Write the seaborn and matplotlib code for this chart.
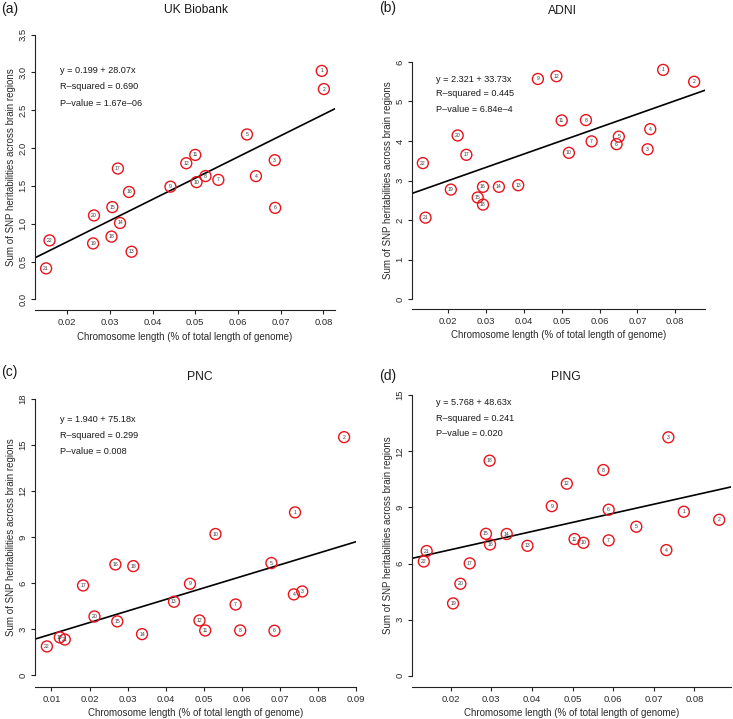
import matplotlib
matplotlib.use("Agg")
import matplotlib.pyplot as plt
import seaborn as sns
import pandas as pd

# chromosome numbers shown inside the circles
chromosomes = ['1', '2', '3', '4', '5', '6', '7', '8', '9', '10', '11',
               '12', '13', '14', '15', '16', '17', '18', '19', '20', '21', '22']

# (a) UK Biobank
ukb_len = [0.0796, 0.0801, 0.0686, 0.0642, 0.0621, 0.0687, 0.0554, 0.0524, 0.0442, 0.0503, 0.0500,
           0.0479, 0.0351, 0.0324, 0.0306, 0.0345, 0.0319, 0.0304, 0.0261, 0.0263, 0.0151, 0.0159]
ukb_h2 = [3.02, 2.78, 1.84, 1.63, 2.18, 1.21, 1.58, 1.63, 1.49, 1.55, 1.91,
          1.80, 0.63, 1.01, 1.22, 1.42, 1.73, 0.83, 0.74, 1.11, 0.41, 0.78]
ukb_fit = (0.199, 28.07)
ukb_stats = ['y = 0.199 + 28.07x', 'R\u2013squared = 0.690', 'P\u2013value = 1.67e\u201306']
ukb_yticks = [0.0, 0.5, 1.0, 1.5, 2.0, 2.5, 3.0, 3.5]
ukb_ylabels = ['0.0', '0.5', '1.0', '1.5', '2.0', '2.5', '3.0', '3.5']
ukb_xticks = [0.02, 0.03, 0.04, 0.05, 0.06, 0.07, 0.08]

# (b) ADNI
adni_len = [0.0768, 0.0850, 0.0727, 0.0734, 0.0651, 0.0645, 0.0579, 0.0564, 0.0437, 0.0519, 0.0500,
            0.0486, 0.0385, 0.0334, 0.0278, 0.0292, 0.0248, 0.0292, 0.0207, 0.0225, 0.0140, 0.0133]
adni_h2 = [5.80, 5.50, 3.79, 4.30, 4.11, 3.92, 3.99, 4.53, 5.57, 3.70, 4.52,
           5.64, 2.88, 2.84, 2.57, 2.84, 3.65, 2.39, 2.77, 4.14, 2.06, 3.44]
adni_fit = (2.321, 33.73)
adni_stats = ['y = 2.321 + 33.73x', 'R\u2013squared = 0.445', 'P\u2013value = 6.84e\u20134']
adni_yticks = [0, 1, 2, 3, 4, 5, 6]
adni_ylabels = ['0', '1', '2', '3', '4', '5', '6']
adni_xticks = [0.02, 0.03, 0.04, 0.05, 0.06, 0.07, 0.08]

# (c) PNC
pnc_len = [0.0740, 0.0869, 0.0759, 0.0737, 0.0678, 0.0686, 0.0584, 0.0596, 0.0464, 0.0531, 0.0504,
           0.0489, 0.0422, 0.0338, 0.0273, 0.0268, 0.0183, 0.0315, 0.0122, 0.0213, 0.0135, 0.0088]
pnc_h2 = [10.62, 15.52, 5.47, 5.28, 7.32, 2.91, 4.62, 2.93, 5.97, 9.21, 2.93,
          3.58, 4.80, 2.69, 3.52, 7.23, 5.86, 7.12, 2.48, 3.84, 2.34, 1.89]
pnc_fit = (1.940, 75.18)
pnc_stats = ['y = 1.940 + 75.18x', 'R\u2013squared = 0.299', 'P\u2013value = 0.008']
pnc_yticks = [0, 3, 6, 9, 12, 15, 18]
pnc_ylabels = ['0', '3', '6', '9', '12', '15', '18']
pnc_xticks = [0.01, 0.02, 0.03, 0.04, 0.05, 0.06, 0.07, 0.08, 0.09]

# (d) PING
ping_len = [0.0774, 0.0861, 0.0736, 0.0731, 0.0657, 0.0589, 0.0589, 0.0576, 0.0449, 0.0527, 0.0505,
            0.0486, 0.0389, 0.0338, 0.0287, 0.0297, 0.0247, 0.0296, 0.0206, 0.0224, 0.0141, 0.0134]
ping_h2 = [8.77, 8.34, 12.75, 6.72, 7.97, 8.88, 7.24, 11.00, 9.07, 7.11, 7.31,
           10.27, 6.95, 7.58, 7.59, 7.02, 6.01, 11.50, 3.87, 4.92, 6.67, 6.11]
ping_fit = (5.768, 48.63)
ping_stats = ['y = 5.768 + 48.63x', 'R\u2013squared = 0.241', 'P\u2013value = 0.020']
ping_yticks = [0, 3, 6, 9, 12, 15]
ping_ylabels = ['0', '3', '6', '9', '12', '15']
ping_xticks = [0.02, 0.03, 0.04, 0.05, 0.06, 0.07, 0.08]

W, H = 733, 719

sns.set_style("ticks")
plt.rcParams['font.family'] = ['Liberation Sans', 'DejaVu Sans']

fig = plt.figure(figsize=(W / 100, H / 100), dpi=100)


def fx(px):
    return px / W


def fy(py):
    return 1 - py / H


def draw_panel(box, tag, title, tag_pos, title_pos, stats_pos,
               xs, ys, fit, stats, yticks, ylabels, xticks):
    left, top, right, bottom = box
    ax = fig.add_axes([fx(left), fy(bottom), (right - left) / W, (bottom - top) / H])

    df = pd.DataFrame({'length': xs, 'h2': ys, 'chr': chromosomes})
    sns.scatterplot(data=df, x='length', y='h2', ax=ax, s=62, marker='o',
                    facecolor='none', edgecolor='#e8141c', linewidth=1.0, zorder=3)
    for _, row in df.iterrows():
        ax.text(row['length'], row['h2'], row['chr'], ha='center', va='center',
                fontsize=3.7, color='#3a3a3a', zorder=4)

    # R style limits: 4% padding around data (x) and around the tick range (y)
    pad = 0.04 * (max(xs) - min(xs))
    ax.set_xlim(min(xs) - pad, max(xs) + pad)
    span = yticks[-1] - yticks[0]
    ax.set_ylim(yticks[0] - 0.04 * span, yticks[-1] + 0.04 * span)

    ax.axline((0, fit[0]), slope=fit[1], color='black', lw=1.2, zorder=2)

    ax.set_xticks(xticks)
    ax.set_xticklabels([f'{t:.2f}' for t in xticks])
    ax.set_yticks(yticks)
    ax.set_yticklabels(ylabels, rotation=90, va='center')

    sns.despine(ax=ax)
    ax.spines['left'].set_bounds(yticks[0], yticks[-1])
    for s in ['left', 'bottom']:
        ax.spines[s].set_color('#222222')
        ax.spines[s].set_linewidth(0.8)
    ax.tick_params(axis='both', direction='out', length=3, width=0.8,
                   color='#222222', labelsize=6.8, labelcolor='#2a2a2a')
    ax.tick_params(axis='x', pad=3)
    ax.tick_params(axis='y', pad=2.5)

    ax.set_xlabel('Chromosome length (% of total length of genome)', fontsize=7,
                  color='#2a2a2a', labelpad=3)
    ax.set_ylabel('Sum of SNP heritabilities across brain regions', fontsize=7,
                  color='#2a2a2a', labelpad=1.5)

    fig.text(fx(tag_pos[0]), fy(tag_pos[1]), tag, fontsize=10, color='#1a1a1a',
             ha='left', va='center')
    fig.text(fx(title_pos[0]), fy(title_pos[1]), title, fontsize=8.7, color='#1a1a1a',
             ha='center', va='center')
    for line, py in zip(stats, stats_pos[1]):
        fig.text(fx(stats_pos[0]), fy(py), line, fontsize=6.6, color='#1a1a1a',
                 ha='left', va='center')
    return ax


draw_panel((35, 24, 335, 310), '(a)', 'UK Biobank', (1, 9), (196, 10),
           (60, [70.7, 86.7, 103.3]),
           ukb_len, ukb_h2, ukb_fit, ukb_stats, ukb_yticks, ukb_ylabels, ukb_xticks)
draw_panel((412, 52.5, 705, 308.5), '(b)', 'ADNI', (379, 8), (562, 11),
           (436, [79, 94, 110]),
           adni_len, adni_h2, adni_fit, adni_stats, adni_yticks, adni_ylabels, adni_xticks)
draw_panel((35, 388, 356, 686.5), '(c)', 'PNC', (1, 372), (200, 377),
           (60, [419.3, 435, 451.7]),
           pnc_len, pnc_h2, pnc_fit, pnc_stats, pnc_yticks, pnc_ylabels, pnc_xticks)
draw_panel((412, 384, 731, 687), '(d)', 'PING', (379, 376), (566, 377),
           (436, [402.7, 418.3, 434]),
           ping_len, ping_h2, ping_fit, ping_stats, ping_yticks, ping_ylabels, ping_xticks)

fig.savefig('out.png', dpi=100)
plt.close(fig)
